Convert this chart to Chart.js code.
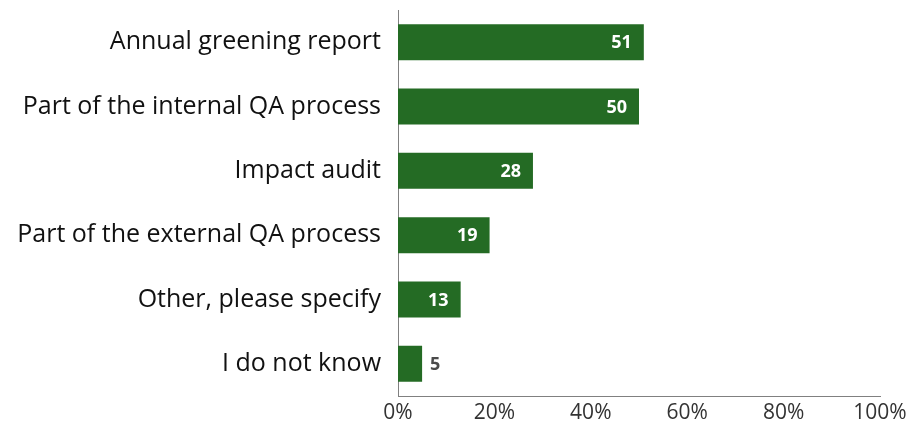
<!DOCTYPE html>
<html><head><meta charset="utf-8">
<script src="https://cdn.jsdelivr.net/npm/chart.js@4"></script>
<style>html,body{margin:0;padding:0;background:#fff}#wrap{width:910px;height:422px}</style>
</head><body><div id="wrap"><canvas id="c" width="910" height="422"></canvas></div>
<script>
const categories = ["Annual greening report","Part of the internal QA process","Impact audit","Part of the external QA process","Other, please specify","I do not know"];
const values = [51,50,28,19,13,5];
const xTicks = [0,20,40,60,80,100];

const labelPlugin = {
  id:'barLabels',
  afterDatasetsDraw(chart){
    const ctx = chart.ctx;
    const meta = chart.getDatasetMeta(0);
    ctx.save();
    ctx.font = 'bold 18px "Open Sans"';
    ctx.textBaseline = 'middle';
    meta.data.forEach((bar,i)=>{
      const v = values[i];
      const w = bar.x - bar.base;
      const txt = String(v);
      const tw = ctx.measureText(txt).width;
      if (w > tw + 20) {
        ctx.fillStyle = '#fff'; ctx.textAlign='right';
        ctx.fillText(txt, bar.x - 12, bar.y+1);
      } else {
        ctx.fillStyle = '#4a4a4a'; ctx.textAlign='left';
        ctx.fillText(txt, bar.x + 8, bar.y+1);
      }
    });
    ctx.restore();
  }
};

new Chart(document.getElementById('c'),{
  type:'bar',
  data:{labels:categories,datasets:[{data:values,backgroundColor:'#246b24',borderWidth:0,barPercentage:0.56,categoryPercentage:1}]},
  options:{
    indexAxis:'y',responsive:false,animation:false,
    layout:{padding:{left:0,right:30,top:10,bottom:0}},
    plugins:{legend:{display:false},tooltip:{enabled:false}},
    scales:{
      x:{min:0,max:100,
        afterBuildTicks(s){s.ticks = xTicks.map(v=>({value:v}));},
        afterFit(s){s.height=26; s.paddingLeft=0; s.paddingRight=0;},
        grid:{display:false,drawTicks:false},
        border:{display:true,color:'#808080',width:1},
        ticks:{padding:7,color:'#333',font:{family:'Open Sans',size:21,lineHeight:1},callback:v=>v+'%',maxRotation:0}},
      y:{
        afterFit(s){s.width=398; s.paddingTop=0; s.paddingBottom=0;},
        grid:{display:false,drawTicks:false},
        border:{display:true,color:'#808080',width:1},
        ticks:{padding:17,color:'#111',font:{family:'Open Sans',size:25}}}
    }
  },
  plugins:[labelPlugin]
});
</script></body></html>
